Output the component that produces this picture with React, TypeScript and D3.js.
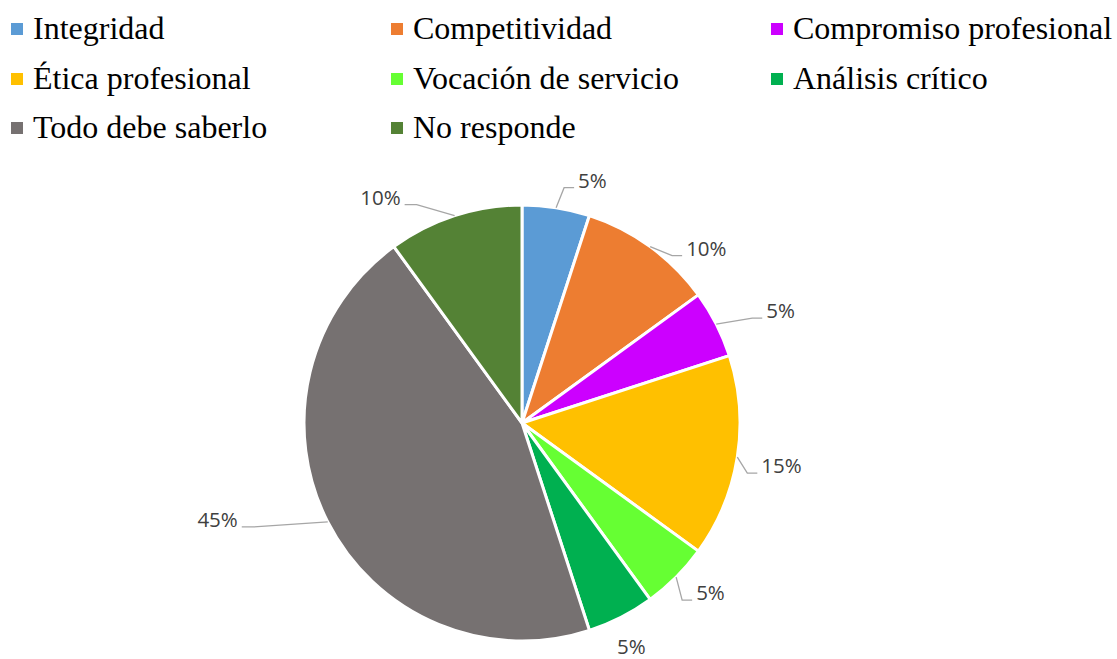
import React from "react";
import * as d3 from "d3";

// Categories, shares (%) and slice colours
const categories = [
  "Integridad",
  "Competitividad",
  "Compromiso profesional",
  "Ética profesional",
  "Vocación de servicio",
  "Análisis crítico",
  "Todo debe saberlo",
  "No responde",
];
const shares = [5, 10, 5, 15, 5, 5, 45, 10];
const colors = [
  "#5B9BD5",
  "#ED7D31",
  "#CC00FF",
  "#FFC000",
  "#66FF33",
  "#00B050",
  "#767171",
  "#548235",
];

// Label offsets from the slice's outer mid-point to the end of its leader line
const labelOffsets: [number, number][] = [
  [18, -20],
  [32, 9],
  [46, -6],
  [20, 16],
  [16, 23],
  [-4, 37],
  [-86, 5],
  [-50, -11],
];
// Slices whose label sits close enough to need no leader
const noLeader = [false, false, false, false, false, true, false, false];

const W = 1117;
const H = 659;
const cx = 522;
const cy = 423;
const R = 218;

// Legend grid
const legendCols = 3;
const legendX = [11, 391, 771];
const legendRowY = [39, 89, 138];

export default function App() {
  const pie = d3
    .pie<number>()
    .sort(null)
    .value((d) => d)
    .startAngle(0)
    .endAngle(2 * Math.PI);
  const arcs = pie(shares);
  const arc = d3.arc<d3.PieArcDatum<number>>().innerRadius(0).outerRadius(R);

  return (
    <svg
      width={W}
      height={H}
      style={{ position: "absolute", left: 0, top: 0, background: "#fff" }}
    >
      {/* legend */}
      {categories.map((c, i) => {
        const col = i % legendCols;
        const row = Math.floor(i / legendCols);
        const x = legendX[col];
        const y = legendRowY[row];
        return (
          <g key={c}>
            <rect x={x} y={y - 16} width={12} height={12} fill={colors[i]} />
            <text
              x={x + 22}
              y={y}
              fontFamily="'Liberation Serif', 'Times New Roman', serif"
              fontSize={32}
              fill="#000"
            >
              {c}
            </text>
          </g>
        );
      })}

      {/* pie */}
      <g transform={`translate(${cx},${cy})`}>
        {arcs.map((a, i) => (
          <path
            key={categories[i]}
            d={arc(a) || ""}
            fill={colors[i]}
            stroke="#fff"
            strokeWidth={3}
            strokeLinejoin="round"
          />
        ))}
        {arcs.map((a, i) => {
          const mid = (a.startAngle + a.endAngle) / 2;
          const px = R * Math.sin(mid);
          const py = -R * Math.cos(mid);
          const [dx, dy] = labelOffsets[i];
          const ex = px + dx;
          const ey = py + dy;
          const right = dx >= 0;
          const elbowX = right ? ex - 10 : ex + 12;
          const text = `${shares[i]}%`;
          return (
            <g key={"lbl" + i}>
              {!noLeader[i] && (
                <polyline
                  points={`${px},${py} ${elbowX},${ey} ${ex},${ey}`}
                  fill="none"
                  stroke="#A6A6A6"
                  strokeWidth={1.3}
                />
              )}
              <text
                x={noLeader[i] ? ex : right ? ex + 4 : ex - 4}
                y={ey}
                textAnchor={noLeader[i] ? "start" : right ? "start" : "end"}
                fontFamily="'Open Sans', 'Liberation Sans', sans-serif"
                fontSize={20.5}
                fill="#404040"
              >
                {text}
              </text>
            </g>
          );
        })}
      </g>
    </svg>
  );
}
